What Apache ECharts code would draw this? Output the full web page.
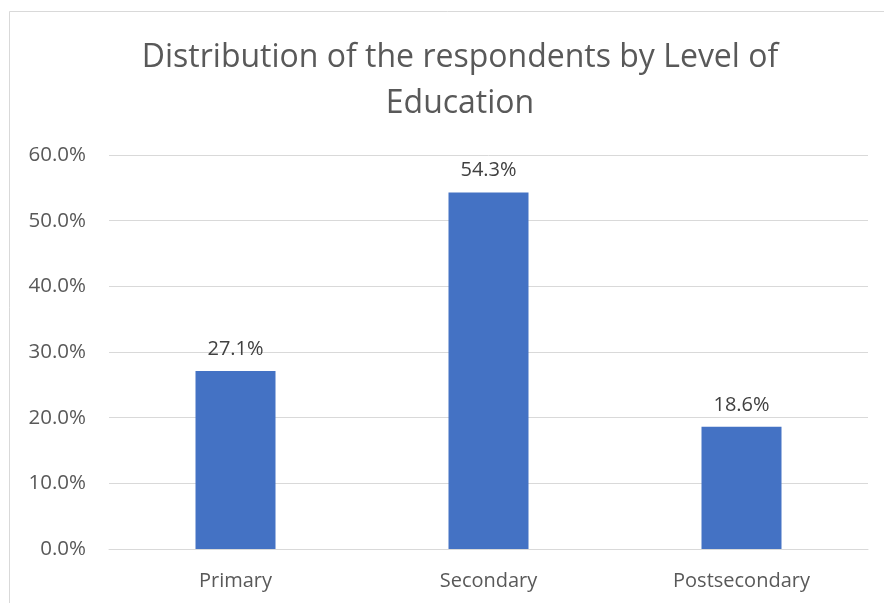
<!DOCTYPE html>
<html><head><meta charset="utf-8">
<script src="https://cdn.jsdelivr.net/npm/echarts@6/dist/echarts.min.js"></script>
<style>html,body{margin:0;padding:0;background:#fff}#c{width:884px;height:603px}</style>
</head><body><div id="c"></div>
<script>
const categories = ['Primary', 'Secondary', 'Postsecondary'];
const values = [27.1, 54.3, 18.6];
const yTicks = { min: 0, max: 60, interval: 10 };
const titleText = 'Distribution of the respondents by Level of\nEducation';

const chart = echarts.init(document.getElementById('c'));
chart.setOption({
  animation: false,
  backgroundColor: '#fff',
  graphic: [{
    type: 'rect', silent: true, z: -1,
    shape: { x: 9.5, y: 11.5, width: 900, height: 700 },
    style: { fill: 'none', stroke: '#d9d9d9', lineWidth: 1 }
  }],
  title: {
    text: titleText, left: 455, top: 30, textAlign: 'center',
    textStyle: { fontFamily: 'Open Sans', fontSize: 32, fontWeight: 'normal', color: '#595959', lineHeight: 46 }
  },
  grid: { left: 109, right: 16, top: 155, bottom: 54, containLabel: false },
  xAxis: {
    type: 'category', data: categories,
    axisLine: { lineStyle: { color: '#d9d9d9' } },
    axisTick: { show: false },
    axisLabel: { color: '#595959', fontFamily: 'Open Sans', fontSize: 20, margin: 22 }
  },
  yAxis: {
    type: 'value', min: yTicks.min, max: yTicks.max, interval: yTicks.interval,
    axisLine: { show: false }, axisTick: { show: false },
    splitLine: { lineStyle: { color: '#d9d9d9' } },
    axisLabel: { color: '#595959', fontFamily: 'Open Sans', fontSize: 20.5, margin: 23,
      formatter: v => v.toFixed(1) + '%' }
  },
  series: [{
    type: 'bar', data: values, barWidth: 80,
    itemStyle: { color: '#4472C4' },
    label: { show: true, position: 'top', distance: 12, color: '#404040', fontFamily: 'Open Sans', fontSize: 20,
      formatter: p => p.value.toFixed(1) + '%' }
  }]
});
</script></body></html>
